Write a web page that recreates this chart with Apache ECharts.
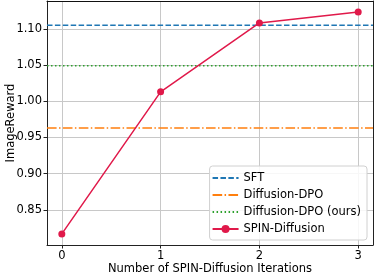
<!DOCTYPE html>
<html><head><meta charset="utf-8">
<script src="https://cdn.jsdelivr.net/npm/echarts@6/dist/echarts.min.js"></script>
<style>html,body{margin:0;padding:0;background:#fff}#c{width:374px;height:275px}</style>
</head><body><div id="c"></div>
<script>
const iterations = [0, 1, 2, 3];
const spinValues = [0.817, 1.013, 1.108, 1.123];
const sftValue = 1.105;
const dpoValue = 0.963;
const dpoOursValue = 1.049;
const yTicks = [0.85, 0.90, 0.95, 1.00, 1.05, 1.10];
const xTicks = [0, 1, 2, 3];
const seriesNames = ['SFT', 'Diffusion-DPO', 'Diffusion-DPO (ours)', 'SPIN-Diffusion'];

const xMin = -0.15, xMax = 3.15, yMin = 0.8017, yMax = 1.1383;
const font = 'DejaVu Sans';
const fs = 11.5;
const chart = echarts.init(document.getElementById('c'), null, {renderer: 'canvas'});
function hline(name, v, color, dash) {
  return {
    name: name, type: 'line', data: [[xMin, v], [xMax, v]], symbol: 'none',
    lineStyle: {color: color, width: 1.5, type: dash}, itemStyle: {color: color},
    z: 3, animation: false
  };
}
chart.setOption({
  animation: false,
  grid: {left: 47, right: 1, top: 1, bottom: 30, containLabel: false, outerBoundsMode: 'none'},
  textStyle: {fontFamily: font},
  xAxis: [{
    type: 'value', min: xMin, max: xMax,
    name: 'Number of SPIN-Diffusion Iterations', nameLocation: 'middle', nameGap: 18, nameMoveOverlap: false,
    nameTextStyle: {fontFamily: font, fontSize: fs, color: '#000'},
    axisLine: {show: true, onZero: false, lineStyle: {color: '#222', width: 1}},
    axisTick: {show: true, length: 3.5, lineStyle: {color: '#222'}, customValues: xTicks},
    axisLabel: {customValues: xTicks, fontFamily: font, fontSize: fs, color: '#000', margin: 5},
    splitLine: {show: true, lineStyle: {color: '#c8c8c8', width: 1}}
  }, {
    type: 'value', min: xMin, max: xMax, position: 'top',
    axisLine: {show: true, onZero: false, lineStyle: {color: '#111', width: 1}},
    axisTick: {show: false}, axisLabel: {show: false}, splitLine: {show: false}
  }],
  yAxis: [{
    type: 'value', min: yMin, max: yMax,
    name: 'ImageReward', nameLocation: 'middle', nameGap: 30, nameRotate: 90, nameMoveOverlap: false,
    nameTextStyle: {fontFamily: font, fontSize: fs, color: '#000'},
    axisLine: {show: true, onZero: false, lineStyle: {color: '#222', width: 1}},
    axisTick: {show: true, length: 3.5, lineStyle: {color: '#222'}, customValues: yTicks},
    axisLabel: {customValues: yTicks, fontFamily: font, fontSize: fs, color: '#000', margin: 5,
      formatter: v => v.toFixed(2)},
    splitLine: {show: true, lineStyle: {color: '#c8c8c8', width: 1}}
  }, {
    type: 'value', min: yMin, max: yMax, position: 'right',
    axisLine: {show: true, onZero: false, lineStyle: {color: '#222', width: 1}},
    axisTick: {show: false}, axisLabel: {show: false}, splitLine: {show: false}
  }],
  legend: {
    data: [
      {name: seriesNames[0], itemStyle: {opacity: 0}},
      {name: seriesNames[1], itemStyle: {opacity: 0}},
      {name: seriesNames[2], itemStyle: {opacity: 0}},
      {name: seriesNames[3]}
    ],
    orient: 'vertical', right: 7, bottom: 35,
    itemWidth: 26, itemHeight: 10, itemGap: 5, padding: [6, 6, 5, 2],
    backgroundColor: 'rgba(255,255,255,0.85)', borderColor: '#d0d0d0', borderWidth: 1, borderRadius: 3,
    textStyle: {fontFamily: font, fontSize: fs, color: '#000'}
  },
  series: [
    hline(seriesNames[0], sftValue, '#1f77b4', [5.5, 2.4]),
    hline(seriesNames[1], dpoValue, '#ff7f0e', [9.6, 2.4, 1.5, 2.4]),
    hline(seriesNames[2], dpoOursValue, '#2ca02c', [1.5, 2.5]),
    {
      name: seriesNames[3], type: 'line', data: iterations.map((x, i) => [x, spinValues[i]]),
      symbol: 'circle', symbolSize: 7, lineStyle: {color: '#e0194a', width: 1.5},
      itemStyle: {color: '#e0194a'}, z: 4
    }
  ]
});
</script></body></html>
